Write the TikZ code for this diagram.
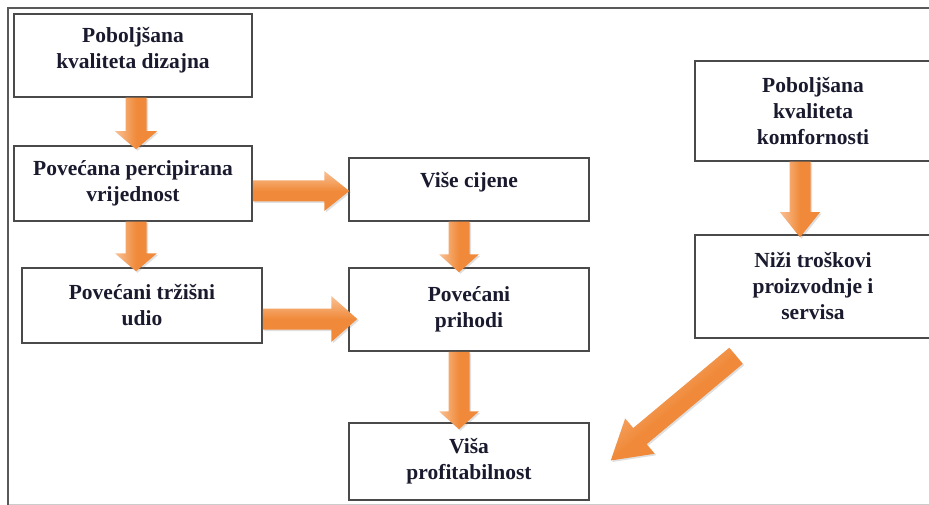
\documentclass[tikz,border=0pt]{standalone}
\usepackage{fontspec}
\setmainfont{Liberation Serif}
\usetikzlibrary{calc,shadows}
\definecolor{arrowor}{HTML}{F08A3A}
\definecolor{arrowlt}{HTML}{F9C195}
\definecolor{txt}{HTML}{1A1A2E}
\definecolor{boxline}{HTML}{4A4A4A}
\tikzset{
  box/.style={draw=boxline, line width=1.5pt, fill=white, align=center,
    font=\bfseries\fontsize{21.5}{26}\selectfont, text=txt, inner sep=0pt},
  arrowshade/.style={top color=arrowlt, bottom color=arrowor, middle color=arrowor,
    draw=none, drop shadow={opacity=0.25, shadow xshift=1.5pt, shadow yshift=-1.5pt}},
}
% #1 start, #2 tip, #3 head length, #4 head half width, #5 shading angle
\newcommand{\blockarrow}[5]{%
  \coordinate (ba-s) at #1;
  \coordinate (ba-t) at #2;
  \coordinate (ba-b) at ($(ba-t)!#3!(ba-s)$);
  \shade[arrowshade, shading angle=#5]
    ($(ba-s)!10.5pt!90:(ba-t)$) -- ($(ba-b)!10.5pt!90:(ba-t)$) --
    ($(ba-b)!#4!90:(ba-t)$) -- (ba-t) -- ($(ba-b)!#4!-90:(ba-t)$) --
    ($(ba-b)!10.5pt!-90:(ba-t)$) -- ($(ba-s)!10.5pt!-90:(ba-t)$) -- cycle;
}
\begin{document}
\begin{tikzpicture}[x=1pt, y=-1pt]
\useasboundingbox (0,0) rectangle (929,505);
% frame
\draw[gray!40, line width=1pt] (8,504) -- (929,504);
\draw[black!65, line width=2.5pt] (8,505) -- (8,8) -- (929,8);

% boxes
\node[box, minimum width=238pt, minimum height=83pt, text depth=15pt] (b1) at (133,55.5)
  {Poboljšana\\kvaliteta dizajna};
\node[box, minimum width=238pt, minimum height=75pt] (b2) at (133,183.5)
  {Povećana percipirana\\vrijednost};
\node[box, minimum width=240pt, minimum height=75pt] (b3) at (142,305.5)
  {Povećani tržišni\\udio};
\node[box, minimum width=240pt, minimum height=63pt, text depth=19pt] (b4) at (469,189.5)
  {Više cijene};
\node[box, minimum width=240pt, minimum height=83pt] (b5) at (469,309.5)
  {Povećani\\prihodi};
\node[box, minimum width=240pt, minimum height=77pt] (b6) at (469,461.5)
  {Viša\\profitabilnost};
\node[box, minimum width=236pt, minimum height=100pt] (b7) at (813,111)
  {Poboljšana\\kvaliteta\\komfornosti};
\node[box, minimum width=236pt, minimum height=103pt] (b8) at (813,286.5)
  {Niži troškovi\\proizvodnje i\\servisa};

% arrows
\blockarrow{($(b1.south)+(3,0)$)}{($(b2.north)+(3,4)$)}{18pt}{21pt}{90}
\blockarrow{($(b2.south)+(3,0)$)}{($(b3.north)+(-6,4)$)}{18pt}{21pt}{90}
\blockarrow{($(b2.east)+(0,7.5)$)}{($(b4.west)+(1,1.5)$)}{25pt}{20pt}{0}
\blockarrow{($(b3.east)+(0,13.5)$)}{($(b5.west)+(9,9.5)$)}{26pt}{23pt}{0}
\blockarrow{($(b4.south)+(-10,0)$)}{($(b5.north)+(-10,5)$)}{18pt}{20pt}{90}
\blockarrow{($(b5.south)+(-10,0)$)}{($(b6.north)+(-10,7)$)}{18pt}{20pt}{90}
\blockarrow{($(b7.south)+(-13,0)$)}{($(b8.north)+(-13,3)$)}{25pt}{20pt}{90}
\blockarrow{($(b8.south)+(-77,17)$)}{($(b6.east)+(21,-1)$)}{38pt}{23pt}{40}
\end{tikzpicture}
\end{document}
